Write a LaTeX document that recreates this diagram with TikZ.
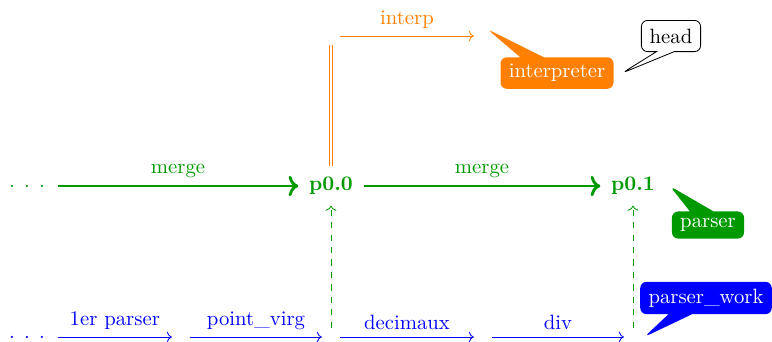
\documentclass[tikz,border=0pt]{standalone}
\usetikzlibrary{arrows.meta, shapes.callouts}
\definecolor{mergeGreen}{HTML}{009900}
\definecolor{interpOrange}{HTML}{FF8000}
\definecolor{parserBlue}{HTML}{0000FF}

\begin{document}
\begin{tikzpicture}[
    commit/.style={text=mergeGreen, font=\bfseries, inner sep=5pt},
    ellipsis/.style={text=#1, inner sep=6pt},
    slot/.style={inner sep=4.2pt},
    branch/.style={rectangle callout, rounded corners=3pt, fill=#1, text=white,
                   inner xsep=4pt, callout pointer width=0.4cm},
    mergeline/.style={->, line width=1.4pt, mergeGreen},
    workline/.style={->, parserBlue},
    lbl/.style={above, text=#1},
  ]
    \useasboundingbox (0,0) rectangle (13.085,5.78);

    % main branch
    \node[ellipsis=mergeGreen] (g0) at (0.458,2.627) {. . .};
    \node[commit] (p00) at (5.610,2.627) {p0.0};
    \node[commit] (p01) at (10.729,2.627) {p0.1};
    \draw[mergeline] (g0) -- node[lbl=mergeGreen] {merge} (p00);
    \draw[mergeline] (p00) -- node[lbl=mergeGreen] {merge} (p01);

    % working branch
    \node[ellipsis=parserBlue] (b0) at (0.458,0.068) {. . .};
    \node[slot] (b1) at (3.068,0.068) {};
    \node[slot] (b2) at (5.610,0.068) {};
    \node[slot] (b3) at (8.186,0.068) {};
    \node[slot] (b4) at (10.729,0.068) {};
    \draw[workline] (b0) -- node[lbl=parserBlue] {1er parser} (b1);
    \draw[workline] (b1) -- node[lbl=parserBlue] {point\_virg} (b2);
    \draw[workline] (b2) -- node[lbl=parserBlue] {decimaux} (b3);
    \draw[workline] (b3) -- node[lbl=parserBlue] {div} (b4);
    \draw[->, dashed, mergeGreen] (b2) -- (p00);
    \draw[->, dashed, mergeGreen] (b4) -- (p01);

    % interpreter branch
    \node[slot] (o1) at (5.610,5.169) {};
    \node[slot] (o2) at (8.186,5.169) {};
    \draw[interpOrange, double, double distance=1.2pt] (p00) -- (o1);
    \draw[->, interpOrange] (o1) -- node[lbl=interpOrange] {interp} (o2);

    % branch labels
    \node[branch=interpOrange,
          callout absolute pointer={([xshift=2pt,yshift=-1pt]o2.north)}]
      (interpreter) at (9.441,4.542) {interpreter};
    \node[rectangle callout, rounded corners=3pt, draw, fill=white,
          inner sep=4pt, callout pointer width=0.3cm,
          callout absolute pointer={([xshift=4pt]interpreter.east)}]
      (head) at (11.373,5.169) {head};
    \node[branch=mergeGreen, callout absolute pointer={([xshift=2pt]p01.east)}]
      (parser) at (12.0,1.966) {parser};
    \node[branch=parserBlue, callout absolute pointer={([xshift=1pt]b4.east)}]
      (parserwork) at (11.966,0.729) {parser\_work};
\end{tikzpicture}
\end{document}
